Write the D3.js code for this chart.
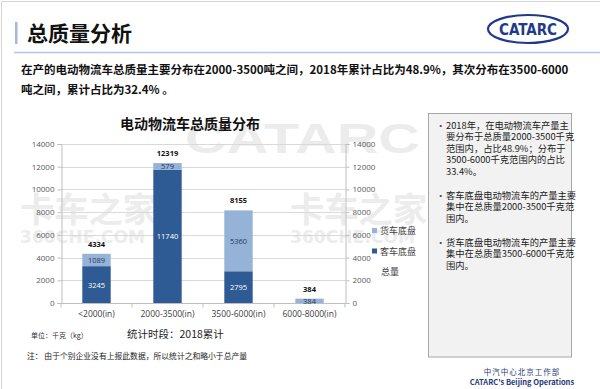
<!DOCTYPE html>
<html>
<head>
<meta charset="utf-8">
<script src="https://cdn.jsdelivr.net/npm/d3@7"></script>
<style>
  body { margin: 0; background: #fff; }
  svg { display: block; font-family: "Noto Sans CJK SC", "Noto Sans", sans-serif; }
</style>
</head>
<body>
<svg width="600" height="389"></svg>
<script>
// data
var categories = ['<2000(in)', '2000-3500(in)', '3500-6000(in)', '6000-8000(in)'];
var busChassis = [3245, 11740, 2795, 0];      // 客车底盘
var truckChassis = [1089, 579, 5360, 384];    // 货车底盘
var totals = [4334, 12319, 8155, 384];        // 总量
var yTicks = [0, 2000, 4000, 6000, 8000, 10000, 12000, 14000];
var legendNames = ['货车底盘', '客车底盘', '总量'];
var notes = [
  ['2018年，在电动物流车产量主', '要分布于总质量2000-3500千克', '范围内，占比48.9%；分布于', '3500-6000千克范围内的占比', '33.4%。'],
  ['客车底盘电动物流车的产量主要', '集中在总质量2000-3500千克范', '围内。'],
  ['货车底盘电动物流车的产量主要', '集中在总质量3500-6000千克范', '围内。']
];

var dark = '#2F5B94', light = '#95B3D7';
var svg = d3.select('svg');

// page frame
svg.append('path').attr('d', 'M1.5,389V1.5H600').attr('fill', 'none').attr('stroke', '#d6d6d6');

// header
svg.append('rect').attr('x', 15).attr('y', 22).attr('width', 2.5).attr('height', 22).attr('fill', '#a8b8d8');
svg.append('text').attr('x', 27).attr('y', 41).text('总质量分析')
   .attr('font-size', '21px').attr('font-weight', 'bold').attr('fill', '#111');
svg.append('line').attr('x1', 14).attr('x2', 600).attr('y1', 52.5).attr('y2', 52.5)
   .attr('stroke', '#b4c6e7').attr('stroke-width', 1.5);
var logo = svg.append('g').attr('transform', 'translate(528,29)');
logo.append('ellipse').attr('rx', 40).attr('ry', 14).attr('fill', 'none')
    .attr('stroke', '#1f3a8c').attr('stroke-width', 2.2);
logo.append('text').text('CATARC').attr('text-anchor', 'middle').attr('y', 5.5)
    .attr('font-family', '"Liberation Sans Narrow", "DejaVu Sans Condensed", sans-serif')
    .attr('font-size', '15px').attr('font-weight', 'bold').attr('fill', '#1f3a8c')
    .attr('textLength', 58).attr('lengthAdjust', 'spacingAndGlyphs');

svg.append('text').attr('x', 21).attr('y', 74)
   .text('在产的电动物流车总质量主要分布在2000-3500吨之间，2018年累计占比为48.9%，其次分布在3500-6000')
   .attr('font-size', '11.5px').attr('font-weight', 'bold').attr('fill', '#111');
svg.append('text').attr('x', 21).attr('y', 94)
   .text('吨之间，累计占比为32.4% 。')
   .attr('font-size', '11.5px').attr('font-weight', 'bold').attr('fill', '#111');

// watermarks (faint, behind the chart)
var wm = svg.append('g').attr('fill', '#ececec').attr('font-weight', 'bold');
wm.append('text').attr('x', 185).attr('y', 153).text('CATARC').attr('font-size', '42px')
  .attr('font-family', '"Liberation Sans Narrow", sans-serif')
  .attr('textLength', 235).attr('lengthAdjust', 'spacingAndGlyphs');
[20, 290].forEach(function(x) {
  wm.append('text').attr('x', x).attr('y', 222).text('卡车之家').attr('font-size', '34px')
    .attr('textLength', 137).attr('lengthAdjust', 'spacingAndGlyphs');
  wm.append('text').attr('x', x).attr('y', 243).text('360CHE.COM').attr('font-size', '17px')
    .attr('font-family', 'DejaVu Sans, sans-serif')
    .attr('textLength', 125).attr('lengthAdjust', 'spacing');
});

// chart
var x = d3.scaleBand().domain(categories).range([61, 345]).paddingInner(0.6).paddingOuter(0.3);
var y = d3.scaleLinear().domain([0, 14000]).range([303, 144]);

svg.append('text').attr('x', 190).attr('y', 129).attr('text-anchor', 'middle')
   .text('电动物流车总质量分布').attr('font-size', '14px').attr('font-weight', 'bold').attr('fill', '#111');

svg.append('g').selectAll('line').data(yTicks.slice(1)).join('line')
   .attr('x1', 61).attr('x2', 345).attr('y1', function(d) { return Math.round(y(d)) + 0.5; })
   .attr('y2', function(d) { return Math.round(y(d)) + 0.5; })
   .attr('stroke', '#d9d9d9');

var leftAxis = svg.append('g').attr('transform', 'translate(61.5,0)')
   .call(d3.axisLeft(y).tickValues(yTicks).tickSize(4).tickPadding(3).tickFormat(d3.format('d')));
var rightAxis = svg.append('g').attr('transform', 'translate(345.5,0)')
   .call(d3.axisRight(y).tickValues(yTicks).tickSize(4).tickPadding(3).tickFormat(d3.format('d')));
[leftAxis, rightAxis].forEach(function(a) {
  a.select('.domain').attr('stroke', '#bfbfbf');
  a.selectAll('.tick line').attr('stroke', '#bfbfbf');
  a.selectAll('text').attr('fill', '#595959').attr('font-size', '8px')
   .attr('font-family', '"Open Sans", "Noto Sans", sans-serif');
});

var xAxis = svg.append('g').attr('transform', 'translate(0,303.5)');
xAxis.append('line').attr('x1', 61).attr('x2', 345).attr('stroke', '#bfbfbf');
xAxis.selectAll('line.sep').data(d3.range(categories.length + 1)).join('line').attr('class', 'sep')
  .attr('x1', function(i) { return 61 + i * x.step(); }).attr('x2', function(i) { return 61 + i * x.step(); })
  .attr('y1', 0).attr('y2', 4).attr('stroke', '#bfbfbf');
xAxis.selectAll('text').data(categories).join('text')
  .attr('x', function(d) { return x(d) + x.bandwidth() / 2; }).attr('y', 13)
  .attr('text-anchor', 'middle').text(function(d) { return d; })
  .attr('font-size', '8.5px').attr('fill', '#404040').attr('font-family', '"Open Sans", "Noto Sans", sans-serif');

var rows = categories.map(function(c, i) { return {cat: c, bus: busChassis[i], truck: truckChassis[i], total: totals[i]}; });
var stacked = d3.stack().keys(['bus', 'truck'])(rows);
var colors = {bus: dark, truck: light};
var bars = svg.append('g');
stacked.forEach(function(layer) {
  bars.selectAll('rect.' + layer.key).data(layer).join('rect').attr('class', layer.key)
    .attr('x', function(d) { return x(d.data.cat); })
    .attr('width', x.bandwidth())
    .attr('y', function(d) { return y(d[1]); })
    .attr('height', function(d) { return y(d[0]) - y(d[1]); })
    .attr('fill', colors[layer.key]);
  bars.selectAll('text.' + layer.key).data(layer.filter(function(d) { return d[1] > d[0]; }))
    .join('text').attr('class', layer.key)
    .attr('x', function(d) { return x(d.data.cat) + x.bandwidth() / 2; })
    .attr('y', function(d) { return (y(d[0]) + y(d[1])) / 2 + 3; })
    .attr('text-anchor', 'middle').text(function(d) { return d[1] - d[0]; })
    .attr('font-size', '7.5px').attr('font-family', '"Open Sans", "Noto Sans", sans-serif')
    .attr('fill', layer.key === 'bus' ? '#fff' : '#1f3864');
});
bars.selectAll('text.total').data(rows).join('text').attr('class', 'total')
  .attr('x', function(d) { return x(d.cat) + x.bandwidth() / 2; })
  .attr('y', function(d) { return y(d.total) - 7; })
  .attr('text-anchor', 'middle').text(function(d) { return d.total; })
  .attr('font-size', '7.5px').attr('font-weight', 'bold').attr('fill', '#111')
  .attr('font-family', '"Open Sans", "Noto Sans", sans-serif');

// legend
var lg = svg.append('g').attr('font-size', '9px').attr('fill', '#404040');
legendNames.forEach(function(n, i) {
  var ly = 233 + i * 20.5;
  if (i < 2) lg.append('rect').attr('x', 372).attr('y', ly - 5).attr('width', 5).attr('height', 5)
    .attr('fill', i === 0 ? light : dark);
  lg.append('text').attr('x', i < 2 ? 380 : 381).attr('y', ly + 1).text(n);
});

// notes box
svg.append('rect').attr('x', 428.5).attr('y', 113.5).attr('width', 143).attr('height', 243.5)
   .attr('fill', '#f2f2f2').attr('stroke', '#a6a6a6');
var nb = svg.append('g').attr('font-size', '9.3px').attr('fill', '#222');
var ny = 128.5;
notes.forEach(function(lines, k) {
  nb.append('text').attr('x', 436).attr('y', ny).text('•').attr('fill', '#444');
  lines.forEach(function(t, j) {
    nb.append('text').attr('x', 446).attr('y', ny + j * 11.5).text(t);
  });
  ny += lines.length * 11.5 + 12.5;
});

// footer
svg.append('text').attr('x', 31).attr('y', 338).text('单位：千克（kg）').attr('font-size', '7px').attr('fill', '#333');
svg.append('text').attr('x', 127).attr('y', 338).text('统计时段：2018累计').attr('font-size', '10.5px').attr('fill', '#222');
svg.append('text').attr('x', 27).attr('y', 359).text('注：  由于个别企业没有上报此数据，所以统计之和略小于总产量')
   .attr('font-size', '7.8px').attr('fill', '#222');
svg.append('text').attr('x', 522).attr('y', 375).attr('text-anchor', 'middle').text('中汽中心北京工作部')
   .attr('font-size', '7.5px').attr('fill', '#1f3a7a').attr('letter-spacing', '1px');
svg.append('text').attr('x', 522).attr('y', 385).attr('text-anchor', 'middle').text("CATARC's Beijing Operations")
   .attr('font-size', '7.5px').attr('font-weight', 'bold').attr('fill', '#1f3a7a');
</script>
</body>
</html>
